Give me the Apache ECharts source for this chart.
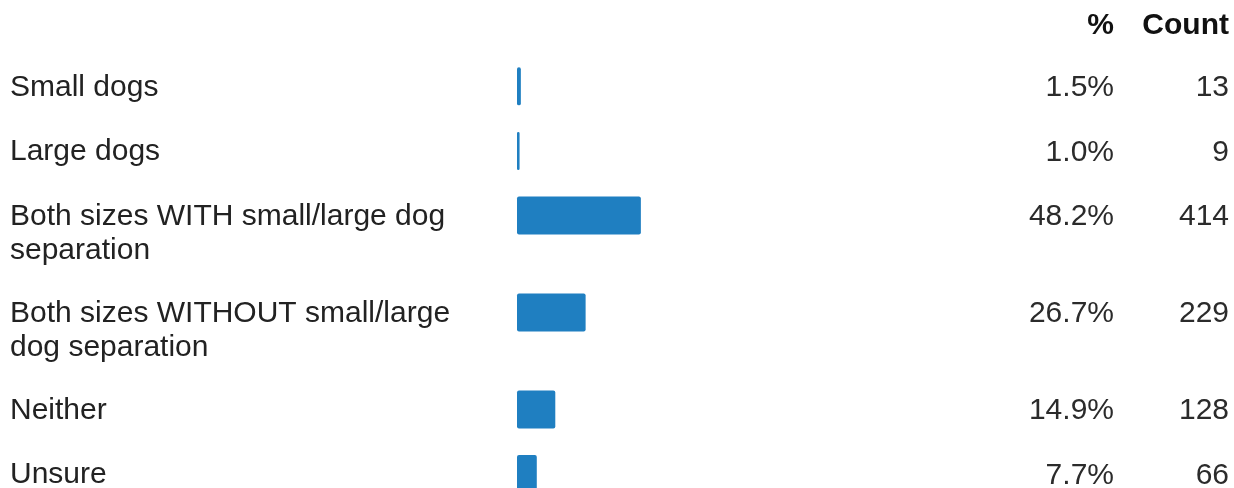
<!DOCTYPE html>
<html>
<head>
<meta charset="utf-8">
<script src="https://cdn.jsdelivr.net/npm/echarts@6/dist/echarts.min.js"></script>
<style>
html,body{margin:0;padding:0;background:#fff;}
#chart{width:1234px;height:488px;}
</style>
</head>
<body>
<div id="chart"></div>
<script>
// ---- data ----
const categories = [
  "Small dogs",
  "Large dogs",
  "Both sizes WITH small/large dog\nseparation",
  "Both sizes WITHOUT small/large\ndog separation",
  "Neither",
  "Unsure"
];
const percents = [1.5, 1.0, 48.2, 26.7, 14.9, 7.7];
const counts = [13, 9, 414, 229, 128, 66];
const headers = ["%", "Count"];

// ---- layout slots: one-line rows take 2 half-units, two-line rows take 3 ----
const slotOf = [];
let pos = 1;
categories.forEach(c => {
  slotOf.push(pos);
  pos += (c.split("\n").length > 1) ? 3 : 2;
});
const nSlots = slotOf[slotOf.length - 1] + 1;
const slotNames = [];
for (let i = 0; i < nSlots; i++) slotNames.push("s" + i);
const rowAtSlot = {};
slotOf.forEach((s, i) => { rowAtSlot[s] = i; });
const barData = slotNames.map((_, i) => (i in rowAtSlot) ? percents[rowAtSlot[i]] : '-');

const FONT = "'Liberation Sans', Arial, Helvetica, sans-serif";
const FS = 30;

const chart = echarts.init(document.getElementById('chart'), null, {renderer: 'canvas'});
const gridLeft = 517, gridRight = 460;

const rightAxis = (margin, fmt) => ({
  type: 'category',
  data: slotNames,
  inverse: true,
  boundaryGap: false,
  position: 'right',
  axisLine: {show: false},
  axisTick: {show: false},
  splitLine: {show: false},
  axisLabel: {
    show: true,
    interval: 0,
    align: 'right',
    verticalAlign: 'top',
    lineHeight: 3,
    margin: margin,
    fontFamily: FONT,
    fontSize: FS,
    color: '#2b2b2b',
    formatter: (v, idx) => (idx in rowAtSlot) ? fmt(rowAtSlot[idx]) : ''
  }
});

chart.setOption({
  animation: false,
  backgroundColor: '#ffffff',
  title: [
    {text: headers[0], right: 115, top: 6,
     textStyle: {fontFamily: FONT, fontSize: FS, fontWeight: 'bold', color: '#111'}},
    {text: headers[1], right: 0, top: 6,
     textStyle: {fontFamily: FONT, fontSize: FS, fontWeight: 'bold', color: '#111'}}
  ],
  grid: {left: gridLeft, right: gridRight, top: 54, bottom: 14,
         containLabel: false, outerBoundsMode: 'none'},
  xAxis: {type: 'value', min: 0, max: 100, show: false},
  yAxis: [
    {
      type: 'category', data: slotNames, inverse: true, boundaryGap: false, show: false
    },
    rightAxis(340, i => percents[i].toFixed(1) + '%'),
    rightAxis(455, i => String(counts[i]))
  ],
  series: [{
    type: 'bar',
    yAxisIndex: 0,
    data: barData,
    barWidth: 38,
    itemStyle: {color: '#1f7fc1', borderRadius: 2},
    label: {
      show: true,
      position: [-(gridLeft - 10), 3],
      align: 'left',
      verticalAlign: 'top',
      fontFamily: FONT,
      fontSize: FS,
      lineHeight: 34,
      color: '#222',
      formatter: p => categories[rowAtSlot[p.dataIndex]]
    }
  }]
});
</script>
</body>
</html>
